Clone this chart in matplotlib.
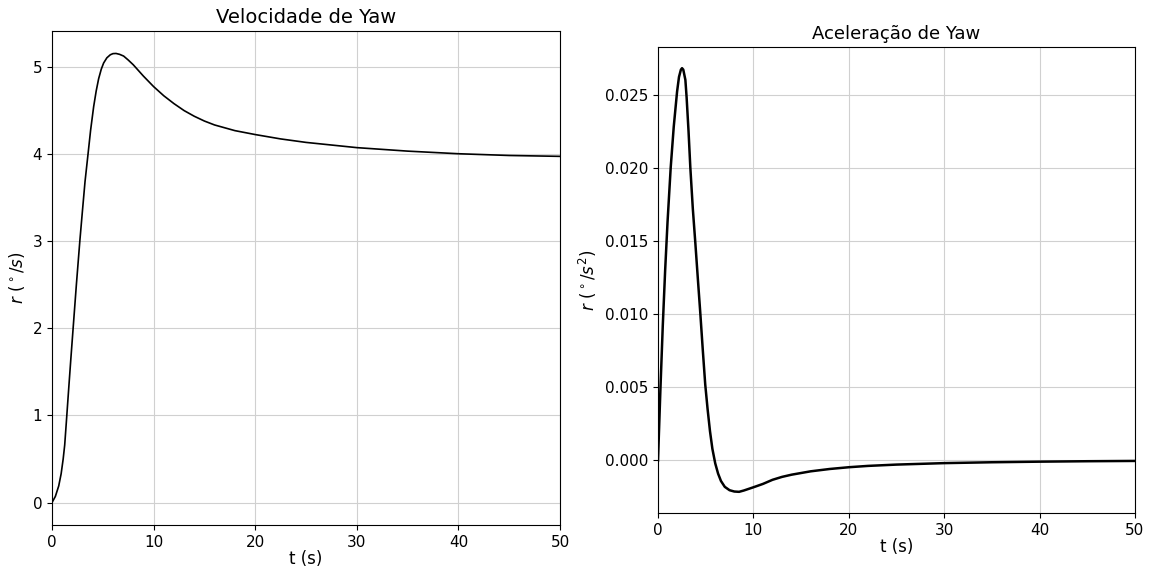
import matplotlib
matplotlib.use("Agg")
import matplotlib.pyplot as plt
import numpy as np

# Yaw rate (deg/s)
t_vel = [0, 0.33, 0.66, 0.9, 1.1, 1.25, 1.41, 1.64, 1.85, 2.08, 2.4, 2.74, 3.0,
         3.25, 3.55, 3.8, 4.1, 4.35, 4.59, 4.85, 5.08, 5.4, 5.74, 6.0, 6.3,
         6.65, 7.05, 7.5, 8.0, 8.5, 9.0, 9.5, 10, 11, 12, 13, 14, 15, 16, 18,
         20, 22.5, 25, 27.5, 30, 35, 40, 45, 50]
r_vel = [0, 0.07, 0.19, 0.33, 0.50, 0.66, 0.92, 1.30, 1.64, 2.0, 2.5, 3.0, 3.35,
         3.68, 4.0, 4.27, 4.54, 4.72, 4.86, 4.97, 5.04, 5.10, 5.135, 5.148, 5.15,
         5.14, 5.12, 5.075, 5.02, 4.955, 4.89, 4.83, 4.77, 4.665, 4.575, 4.495,
         4.43, 4.375, 4.33, 4.265, 4.22, 4.17, 4.13, 4.10, 4.07, 4.03, 4.00,
         3.98, 3.97]

# Yaw acceleration
t_acc = [0, 0.25, 0.5, 0.75, 1.0, 1.33, 1.65, 2.0, 2.2, 2.4, 2.52, 2.65, 2.87,
         3.0, 3.2, 3.39, 3.65, 3.92, 4.2, 4.42, 4.7, 4.95, 5.2, 5.45, 5.7, 6.0,
         6.3, 6.6, 7.0, 7.5, 8.0, 8.5, 9.0, 10, 11, 12, 13, 14, 16, 18, 20, 22,
         25, 30, 35, 40, 45, 50]
r_acc = [0, 0.0048, 0.0092, 0.0130, 0.0163, 0.020, 0.0228, 0.0252, 0.0262,
         0.0267, 0.0268, 0.0267, 0.0260, 0.0248, 0.0225, 0.020, 0.0172, 0.0148,
         0.0122, 0.0102, 0.0075, 0.0052, 0.0035, 0.0020, 0.0008, -0.0002,
         -0.0009, -0.0014, -0.0018, -0.00203, -0.00212, -0.00214, -0.00205,
         -0.00183, -0.0016, -0.00132, -0.00112, -0.00097, -0.00074, -0.00058,
         -0.00046, -0.00037, -0.00028, -0.00018, -0.00012, -0.00008, -0.00005,
         -0.00003]

fig = plt.figure(figsize=(11.5, 5.67), dpi=100)

# Left panel
ax1 = fig.add_axes([52/1150, 42/567, 508/1150, 494/567])
ax1.plot(t_vel, r_vel, color="black", lw=1.2)
ax1.set_xlim(0, 50)
ax1.set_title("Velocidade de Yaw", fontsize=14)
ax1.set_xlabel("t (s)", fontsize=12, labelpad=0)
ax1.set_ylabel(r"$r$ ($^\circ/s$)", fontsize=12)
ax1.tick_params(labelsize=11)
ax1.grid(True, color="#d0d0d0", lw=0.8)

# Right panel
ax2 = fig.add_axes([658/1150, 54/567, 477/1150, 466/567])
ax2.plot(t_acc, r_acc, color="black", lw=1.8)
ax2.set_xlim(0, 50)
ax2.set_title("Aceleração de Yaw", fontsize=13)
ax2.set_xlabel("t (s)", fontsize=12, labelpad=0)
ax2.set_ylabel(r"$r$ ($^\circ/s^2$)", fontsize=12)
ax2.tick_params(labelsize=11)
ax2.grid(True, color="#d0d0d0", lw=0.8)

fig.savefig("out.png", dpi=100)
